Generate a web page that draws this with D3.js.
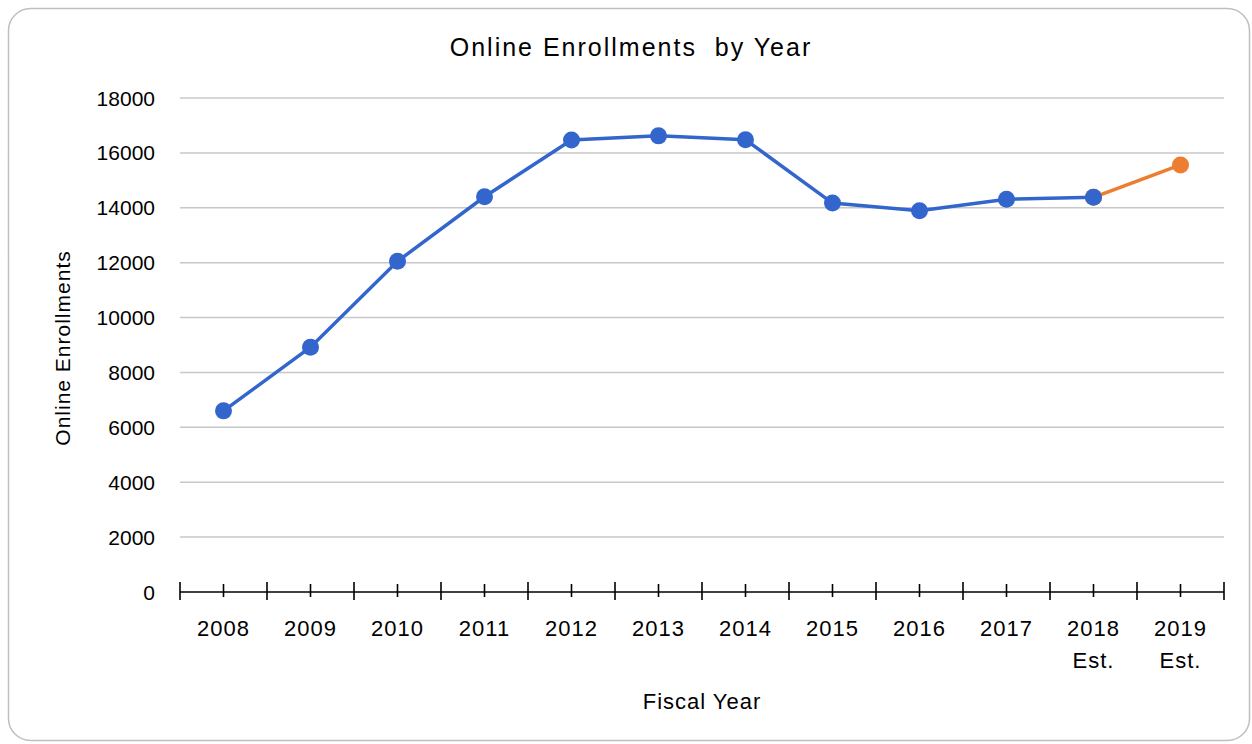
<!DOCTYPE html>
<html>
<head>
<meta charset="utf-8">
<script src="https://cdn.jsdelivr.net/npm/d3@7"></script>
<style>
  body { margin: 0; background: #fff; }
  text { font-family: "Liberation Sans", Arial, sans-serif; fill: #000; white-space: pre; }
</style>
</head>
<body>
<div id="chart"></div>
<script>
// data
var years = ["2008", "2009", "2010", "2011", "2012", "2013", "2014", "2015", "2016", "2017", "2018", "2019"];
var subLabels = ["", "", "", "", "", "", "", "", "", "", "Est.", "Est."];
var enrollments = [6600, 8920, 12050, 14400, 16470, 16620, 16480, 14170, 13890, 14310, 14380, null];
var estimate = [null, null, null, null, null, null, null, null, null, null, 14380, 15560];
var yTicks = [0, 2000, 4000, 6000, 8000, 10000, 12000, 14000, 16000, 18000];

// dimensions
var W = 1252, H = 744;
var plot = {left: 180, right: 1224, top: 98, bottom: 592};

var svg = d3.select("#chart").append("svg")
  .attr("width", W)
  .attr("height", H);

// border
svg.append("rect")
  .attr("x", 8.5).attr("y", 8.5)
  .attr("width", 1241).attr("height", 732)
  .attr("rx", 22).attr("ry", 22)
  .attr("fill", "#fff")
  .attr("stroke", "#BFBFBF")
  .attr("stroke-width", 1.5);

// scales
var x = d3.scaleBand()
  .domain(years)
  .range([plot.left, plot.right]);
var y = d3.scaleLinear()
  .domain([0, 18000])
  .range([plot.bottom, plot.top]);

// gridlines
svg.append("g")
  .selectAll("line")
  .data(yTicks.slice(1))
  .enter().append("line")
  .attr("x1", plot.left).attr("x2", plot.right)
  .attr("y1", function(d) { return y(d); })
  .attr("y2", function(d) { return y(d); })
  .attr("stroke", "#C8C8C8")
  .attr("stroke-width", 1.5);

// y axis labels
svg.append("g")
  .selectAll("text")
  .data(yTicks)
  .enter().append("text")
  .attr("x", 155)
  .attr("y", function(d) { return y(d); })
  .attr("dy", "0.36em")
  .attr("text-anchor", "end")
  .style("font-size", "21px")
  .text(function(d) { return d; });

// x axis line with ticks
var xa = svg.append("g").attr("stroke", "#000").attr("stroke-width", 1.6);
xa.append("line")
  .attr("x1", plot.left).attr("x2", plot.right)
  .attr("y1", plot.bottom).attr("y2", plot.bottom);
var bounds = years.map(function(d) { return x(d); }).concat([plot.right]);
xa.selectAll("line.major")
  .data(bounds)
  .enter().append("line")
  .attr("class", "major")
  .attr("x1", function(d) { return d; }).attr("x2", function(d) { return d; })
  .attr("y1", plot.bottom - 10).attr("y2", plot.bottom + 8);
xa.selectAll("line.minor")
  .data(years)
  .enter().append("line")
  .attr("class", "minor")
  .attr("x1", function(d) { return x(d) + x.bandwidth() / 2; })
  .attr("x2", function(d) { return x(d) + x.bandwidth() / 2; })
  .attr("y1", plot.bottom - 8).attr("y2", plot.bottom + 5);

// x labels
var xl = svg.append("g")
  .style("font-size", "22px")
  .style("letter-spacing", "1px");
xl.selectAll("text.year")
  .data(years)
  .enter().append("text")
  .attr("class", "year")
  .attr("x", function(d) { return x(d) + x.bandwidth() / 2; })
  .attr("y", 636)
  .attr("text-anchor", "middle")
  .text(function(d) { return d; });
xl.selectAll("text.sub")
  .data(subLabels)
  .enter().append("text")
  .attr("class", "sub")
  .attr("x", function(d, i) { return x(years[i]) + x.bandwidth() / 2; })
  .attr("y", 668)
  .attr("text-anchor", "middle")
  .text(function(d) { return d; });

// titles
svg.append("text")
  .attr("x", 631).attr("y", 56)
  .attr("text-anchor", "middle")
  .style("font-size", "25px")
  .style("letter-spacing", "2px")
  .text("Online Enrollments  by Year");
svg.append("text")
  .attr("x", 702).attr("y", 709)
  .attr("text-anchor", "middle")
  .style("font-size", "22px")
  .style("letter-spacing", "1px")
  .text("Fiscal Year");
svg.append("text")
  .attr("transform", "translate(70," + ((plot.top + plot.bottom) / 2 + 3) + ") rotate(-90)")
  .attr("text-anchor", "middle")
  .style("font-size", "21px")
  .style("letter-spacing", "1px")
  .text("Online Enrollments");

// lines
var cx = function(d, i) { return x(years[i]) + x.bandwidth() / 2; };
var line = d3.line()
  .defined(function(d) { return d != null; })
  .x(cx)
  .y(function(d) { return y(d); });

function series(data, color) {
  svg.append("path")
    .datum(data)
    .attr("fill", "none")
    .attr("stroke", color)
    .attr("stroke-width", 3.5)
    .attr("d", line);
  svg.append("g")
    .selectAll("circle")
    .data(data.map(function(d, i) { return {v: d, i: i}; })
      .filter(function(p) { return p.v != null; }))
    .enter().append("circle")
    .attr("cx", function(p) { return cx(p.v, p.i); })
    .attr("cy", function(p) { return y(p.v); })
    .attr("r", 8.5)
    .attr("fill", color);
}
series(estimate, "#ED7D31");
series(enrollments, "#3366CC");
</script>
</body>
</html>
